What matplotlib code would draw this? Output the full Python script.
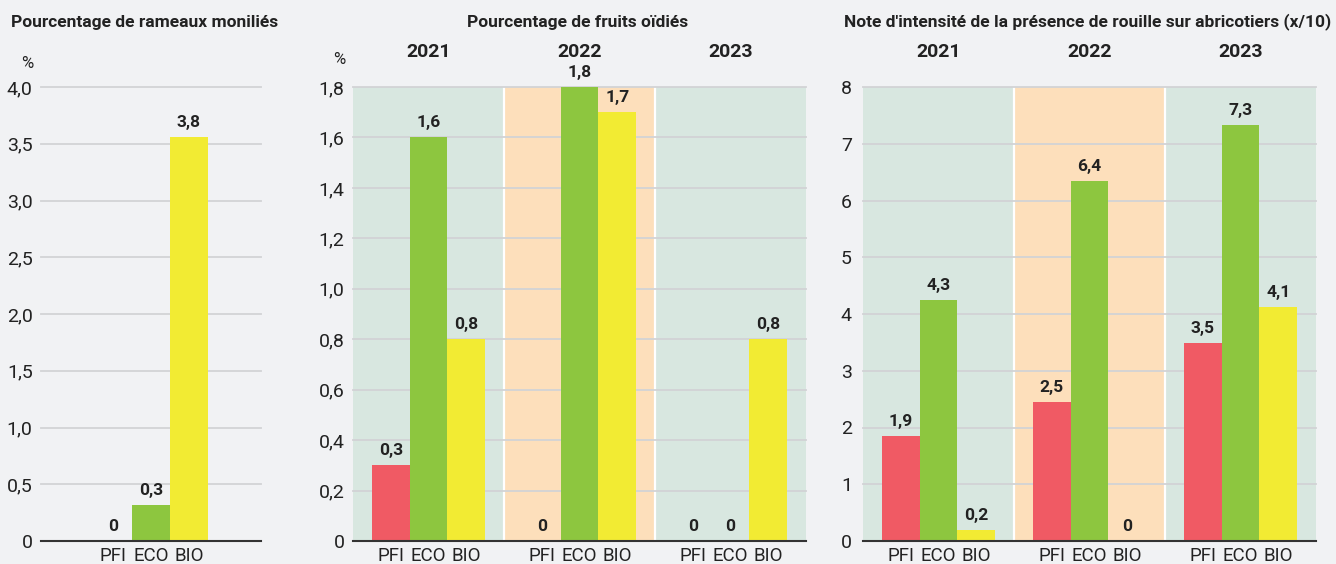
import matplotlib
matplotlib.use("Agg")
import matplotlib.pyplot as plt
from matplotlib.ticker import FuncFormatter, MultipleLocator

plt.rcParams['font.family'] = ['Roboto', 'DejaVu Sans']

# ---------------- data ----------------
categories = ['PFI', 'ECO', 'BIO']
years = ['2021', '2022', '2023']

monilia_values = [0, 0.32, 3.56]
monilia_labels = ['0', '0,3', '3,8']

oidium_values = [[0.30, 1.60, 0.80], [0.0, 1.80, 1.70], [0.0, 0.0, 0.80]]
oidium_labels = [['0,3', '1,6', '0,8'], ['0', '1,8', '1,7'], ['0', '0', '0,8']]

rouille_values = [[1.85, 4.25, 0.19], [2.45, 6.34, 0.0], [3.49, 7.33, 4.12]]
rouille_labels = [['1,9', '4,3', '0,2'], ['2,5', '6,4', '0'], ['3,5', '7,3', '4,1']]

titles = ["Pourcentage de rameaux moniliés",
          "Pourcentage de fruits oïdiés",
          "Note d'intensité de la présence de rouille sur abricotiers (x/10)"]

# ---------------- style ----------------
bar_colors = ['#F05A64', '#8DC63F', '#F2EB33']
year_bg = ['#D8E7E0', '#FDDFBB', '#D8E7E0']
fig_bg = '#F1F2F4'
text_col = '#222222'
grid_col = '#D2D3D5'
TICK_FS = 14
XTICK_FS = 13.5
TITLE_FS = 12.5
YEAR_FS = 14
VAL_FS = 12.5

W, H = 1336, 564
fig = plt.figure(figsize=(W / 100, H / 100), dpi=100, facecolor=fig_bg)


def px_ax(x0, x1, ytop=87, ybot=541):
    return fig.add_axes([x0 / W, 1 - ybot / H, (x1 - x0) / W, (ybot - ytop) / H])


def fmt_dec(v, pos):
    if abs(v) < 1e-9:
        return '0'
    return f'{v:.1f}'.replace('.', ',')


def fmt_int(v, pos):
    return f'{v:.0f}'


def style_axes(ax, ymax, step, formatter, pad):
    ax.set_facecolor('none')
    ax.set_ylim(0, ymax)
    ax.yaxis.set_major_locator(MultipleLocator(step))
    ax.yaxis.set_major_formatter(FuncFormatter(formatter))
    for s in ['top', 'right', 'left']:
        ax.spines[s].set_visible(False)
    ax.spines['bottom'].set_color('#333333')
    ax.spines['bottom'].set_linewidth(1.5)
    ax.spines['bottom'].set_zorder(5)
    ax.tick_params(axis='both', length=0, colors=text_col)
    ax.tick_params(axis='y', pad=pad, labelsize=TICK_FS)
    ax.tick_params(axis='x', pad=4.5, labelsize=XTICK_FS)
    ax.set_axisbelow(False)
    ax.yaxis.grid(True, color=grid_col, linewidth=1.3, zorder=1)
    for gl in ax.get_ygridlines():
        gl.set_zorder(1)
        gl.set_clip_on(False)


def value_label(ax, x, y, text):
    ax.annotate(text, xy=(x, y), xytext=(0, 5), textcoords='offset points',
                ha='center', va='bottom', fontsize=VAL_FS, fontweight='bold',
                color=text_col, zorder=6)


# ---------------- panel 1 ----------------
ax1 = px_ax(41, 261)
style_axes(ax1, 4.0, 0.5, fmt_dec, 6)
x1 = list(range(len(categories)))
ax1.bar(x1, monilia_values, width=1.0, color=bar_colors, zorder=3)
for xi, v, lab in zip(x1, monilia_values, monilia_labels):
    value_label(ax1, xi, v, lab)
ax1.set_xlim(-1.9, 3.9)
ax1.set_xticks(x1)
ax1.set_xticklabels(categories)


# ---------------- grouped panels ----------------
def grouped(ax, values, labels):
    ticks, ticklabels = [], []
    for g, (vals, labs) in enumerate(zip(values, labels)):
        base = 4 * g
        ax.axvspan(base - 1, base + 3, color=year_bg[g], zorder=0, lw=0)
        xs = [base + i for i in range(len(categories))]
        ax.bar(xs, vals, width=1.0, color=bar_colors, zorder=3)
        for xi, v, lab in zip(xs, vals, labs):
            value_label(ax, xi, v, lab)
        ticks += xs
        ticklabels += categories
        ax.annotate(years[g], xy=(base + 1, 1), xycoords=('data', 'axes fraction'),
                    xytext=(0, 25), textcoords='offset points', ha='center', va='center',
                    fontsize=YEAR_FS, fontweight='bold', color=text_col)
    for b in [3, 7]:
        ax.axvline(b, color='white', lw=1.6, zorder=0.5)
    ax.set_xlim(-1, 11)
    ax.set_xticks(ticks)
    ax.set_xticklabels(ticklabels)


ax2 = px_ax(353, 806)
style_axes(ax2, 1.8, 0.2, fmt_dec, 6)
grouped(ax2, oidium_values, oidium_labels)

ax3 = px_ax(863, 1316)
style_axes(ax3, 8, 1, fmt_int, 8)
grouped(ax3, rouille_values, rouille_labels)

# ---------------- titles ----------------
fig.text(145 / W, 1 - 22 / H, titles[0], ha='center', va='center',
         fontsize=TITLE_FS, fontweight='bold', color=text_col)
fig.text(578 / W, 1 - 22 / H, titles[1], ha='center', va='center',
         fontsize=TITLE_FS, fontweight='bold', color=text_col)
fig.text(1088 / W, 1 - 22 / H, titles[2], ha='center', va='center',
         fontsize=TITLE_FS, fontweight='bold', color=text_col)
fig.text(27 / W, 1 - 63 / H, '%', ha='center', va='center', fontsize=TICK_FS - 2, color=text_col)
fig.text(339 / W, 1 - 60 / H, '%', ha='center', va='center', fontsize=TICK_FS - 2, color=text_col)

fig.savefig('out.png', dpi=100, facecolor=fig_bg)
